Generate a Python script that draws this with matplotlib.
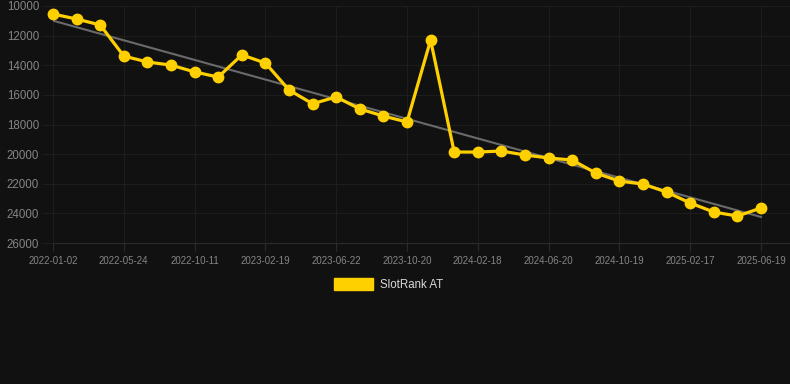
import numpy as np
import matplotlib.pyplot as plt

# weekly-ish rank samples
dates = ['2022-01-02', '2022-05-24', '2022-10-11', '2023-02-19', '2023-06-22',
         '2023-10-20', '2024-02-18', '2024-06-20', '2024-10-19', '2025-02-17',
         '2025-06-19']
rank = [10540, 10880, 11280, 13380, 13780, 13990, 14450, 14800, 13300, 13850,
        15670, 16600, 16140, 16950, 17430, 17830, 12300, 19860, 19860, 19790,
        20060, 20260, 20400, 21280, 21820, 22020, 22560, 23300, 23910, 24180,
        23640]
yticks = [10000, 12000, 14000, 16000, 18000, 20000, 22000, 24000, 26000]
label = 'SlotRank AT'

bg = '#111111'
grid_c = '#1d1d1d'
yellow = '#FFD000'

fig = plt.figure(figsize=(7.9, 3.84), dpi=100, facecolor=bg)
ax = fig.add_axes([53 / 790, 1 - 243 / 384, 737 / 790, 237 / 384], facecolor=bg)

x = np.arange(len(rank))
# linear trend through the ranks
k, b = np.polyfit(x, rank, 1)
ax.plot([x[0], x[-1]], [k * x[0] + b, k * x[-1] + b], color='#6a6a6a', lw=1.5, zorder=2)
ax.plot(x, rank, color=yellow, lw=2.3, marker='o', ms=7.5, zorder=3, clip_on=False)

ax.set_xlim(0, 737 / 23.6)
ax.set_ylim(26000, 10000)
ax.set_yticks(yticks)
ax.set_yticklabels([str(v) for v in yticks])
ax.set_xticks(np.arange(0, len(rank), 3))
ax.set_xticklabels(dates)

ax.grid(True, color=grid_c, lw=0.8)
for s in ax.spines.values():
    s.set_visible(False)
ax.spines['bottom'].set_visible(True)
ax.spines['bottom'].set_color('#2a2a2a')
ax.spines['bottom'].set_linewidth(0.8)
ax.tick_params(axis='y', length=8, width=0.8, color=grid_c, pad=2,
               labelcolor='#858585', labelsize=8.3)
ax.tick_params(axis='x', length=6, width=0.8, color='#2a2a2a', pad=3,
               labelcolor='#858585', labelsize=7)
for t in ax.get_xticklabels() + ax.get_yticklabels():
    t.set_fontfamily('Liberation Sans')

# legend
fig.patches.append(plt.Rectangle((334 / 790, 1 - 290 / 384), 39 / 790, 12 / 384,
                                 transform=fig.transFigure, color=yellow))
fig.text(380 / 790, 1 - 284.5 / 384, label, color='#d8d8d8', fontsize=8.3,
         family='Liberation Sans', va='center', ha='left')

fig.savefig('out.png', dpi=100, facecolor=bg)
